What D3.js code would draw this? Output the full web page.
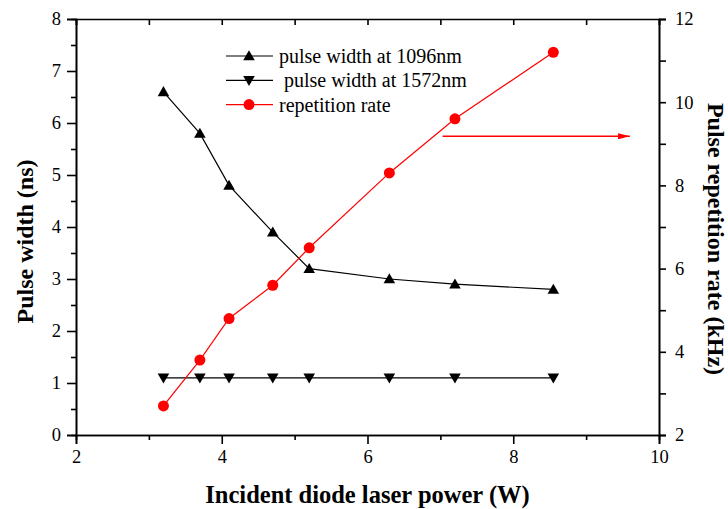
<!DOCTYPE html>
<html>
<head>
<meta charset="utf-8">
<script src="https://cdn.jsdelivr.net/npm/d3@7"></script>
<style>
  body { margin: 0; background: #fff; }
  svg { display: block; }
  text { font-family: "Liberation Serif", "Times New Roman", serif; }
</style>
</head>
<body>
<svg width="728" height="509"></svg>
<script>
// data
var power = [3.2, 3.7, 4.1, 4.7, 5.2, 6.3, 7.2, 8.55];
var width1096 = [6.6, 5.8, 4.8, 3.9, 3.2, 3.0, 2.9, 2.8];
var width1572 = [1.1, 1.1, 1.1, 1.1, 1.1, 1.1, 1.1, 1.1];
var repRate = [2.7, 3.8, 4.8, 5.6, 6.5, 8.3, 9.6, 11.2];

var xTicks = [2, 4, 6, 8, 10],
    yLeftTicks = [0, 1, 2, 3, 4, 5, 6, 7, 8],
    yRightTicks = [2, 4, 6, 8, 10, 12];

var legendLabels = ["pulse width at 1096nm", " pulse width at 1572nm", "repetition rate"];

var margin = { top: 19, right: 69, bottom: 74, left: 76 },
    W = 728, H = 509,
    width = W - margin.left - margin.right,
    height = H - margin.top - margin.bottom;

var x = d3.scaleLinear().domain([2, 10]).range([0, width]),
    yL = d3.scaleLinear().domain([0, 8]).range([height, 0]),
    yR = d3.scaleLinear().domain([2, 12]).range([height, 0]);

var svg = d3.select("svg")
    .append("g")
    .attr("transform", "translate(" + margin.left + "," + margin.top + ")");

function styleAxis(g) {
    g.selectAll("path, line").attr("stroke", "#000").attr("stroke-width", 1.6);
    g.selectAll("text").attr("font-size", 18.5).attr("fill", "#000");
}

// minor ticks first, then major
svg.append("g").attr("transform", "translate(0," + height + ")")
    .call(d3.axisBottom(x).tickValues(d3.range(3, 10, 2)).tickSize(5).tickFormat(""))
    .call(styleAxis);
svg.append("g").attr("transform", "translate(0," + height + ")")
    .call(d3.axisBottom(x).tickValues(xTicks).tickSize(9).tickPadding(6).tickFormat(d3.format("d")))
    .call(styleAxis);

// top mirror, ticks inward
svg.append("g")
    .call(d3.axisTop(x).tickValues(d3.range(2, 10.5, 1)).tickSize(-6).tickFormat(""))
    .call(styleAxis);

svg.append("g")
    .call(d3.axisLeft(yL).tickValues(d3.range(0.5, 8, 1)).tickSize(5).tickFormat(""))
    .call(styleAxis);
svg.append("g")
    .call(d3.axisLeft(yL).tickValues(yLeftTicks).tickSize(9).tickPadding(6).tickFormat(d3.format("d")))
    .call(styleAxis);

svg.append("g").attr("transform", "translate(" + width + ",0)")
    .call(d3.axisRight(yR).tickValues(d3.range(3, 12, 2)).tickSize(7).tickFormat(""))
    .call(styleAxis);
svg.append("g").attr("transform", "translate(" + width + ",0)")
    .call(d3.axisRight(yR).tickValues(yRightTicks).tickSize(7).tickPadding(9).tickFormat(d3.format("d")))
    .call(styleAxis);

// axis titles
svg.append("text")
    .attr("x", width / 2).attr("y", height + 68)
    .attr("text-anchor", "middle")
    .attr("font-size", 24.5).attr("font-weight", "bold")
    .text("Incident diode laser power (W)");

svg.append("text")
    .attr("transform", "translate(-43," + (height / 2 + 14.5) + ")rotate(-90)")
    .attr("text-anchor", "middle")
    .attr("font-size", 24).attr("font-weight", "bold")
    .text("Pulse width (ns)");

svg.append("text")
    .attr("transform", "translate(" + (width + 49) + "," + (height / 2 + 12) + ")rotate(90)")
    .attr("text-anchor", "middle")
    .attr("font-size", 24).attr("font-weight", "bold")
    .text("Pulse repetition rate (kHz)");

var triUp = d3.symbol().type(d3.symbolTriangle).size(58);
var triDown = d3.symbol().type(d3.symbolTriangle).size(58);

function series(vals, y, color, kind) {
    var pts = power.map(function(p, i) { return [x(p), y(vals[i])]; });
    svg.append("path")
        .attr("d", d3.line()(pts))
        .attr("fill", "none")
        .attr("stroke", color)
        .attr("stroke-width", 1.2);
    var g = svg.append("g");
    pts.forEach(function(pt) {
        drawMarker(g, pt[0], pt[1], color, kind);
    });
}

function drawMarker(g, px, py, color, kind) {
    if (kind === "circle") {
        g.append("circle").attr("cx", px).attr("cy", py).attr("r", 5.5).attr("fill", color);
    } else if (kind === "up") {
        g.append("path").attr("d", triUp())
            .attr("transform", "translate(" + px + "," + (py + 1) + ")")
            .attr("fill", color);
    } else {
        g.append("path").attr("d", triDown())
            .attr("transform", "translate(" + px + "," + (py - 1) + ")rotate(180)")
            .attr("fill", color);
    }
}

series(width1096, yL, "#000", "up");
series(width1572, yL, "#000", "down");
series(repRate, yR, "#ff0000", "circle");

// arrow pointing to the right axis
svg.append("defs").append("marker")
    .attr("id", "arrow")
    .attr("viewBox", "0 0 12 6")
    .attr("refX", 12).attr("refY", 3)
    .attr("markerWidth", 12).attr("markerHeight", 6)
    .attr("markerUnits", "userSpaceOnUse")
    .attr("orient", "auto")
    .append("path").attr("d", "M0,0L12,3L0,6Z").attr("fill", "#ff0000");

svg.append("line")
    .attr("x1", x(7.03)).attr("x2", x(9.6))
    .attr("y1", yR(9.18)).attr("y2", yR(9.18))
    .attr("stroke", "#ff0000").attr("stroke-width", 1.5)
    .attr("marker-end", "url(#arrow)");

// legend
var legendColors = ["#000", "#000", "#ff0000"],
    legendKinds = ["up", "down", "circle"];
var lg = svg.append("g").attr("transform", "translate(150,37)");
legendLabels.forEach(function(lab, i) {
    var yy = i * 24.3;
    lg.append("line").attr("x1", 0).attr("x2", 47).attr("y1", yy).attr("y2", yy)
        .attr("stroke", legendColors[i]).attr("stroke-width", 1.2);
    var mg = lg.append("g");
    drawMarker(mg, 23, yy, legendColors[i], legendKinds[i]);
    lg.append("text").attr("x", 53).attr("y", yy).attr("dy", "0.35em")
        .attr("font-size", 20).attr("fill", "#000")
        .style("white-space", "pre")
        .text(lab);
});
</script>
</body>
</html>
